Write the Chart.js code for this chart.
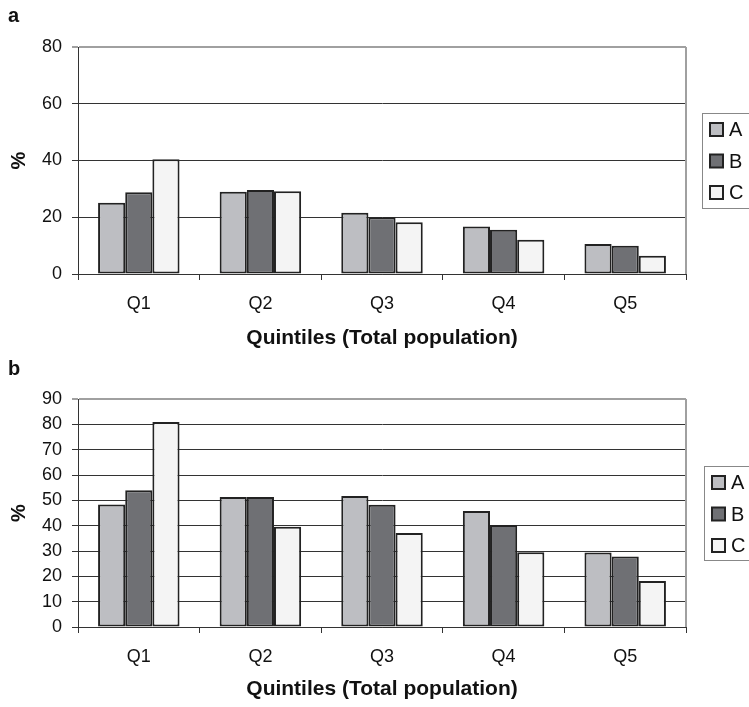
<!DOCTYPE html>
<html>
<head>
<meta charset="utf-8">
<script src="https://cdn.jsdelivr.net/npm/chart.js@4.4.1/dist/chart.umd.min.js"></script>
<style>
  body { margin: 0; background: #fff; }
  .painel { position: absolute; left: 0; width: 749px; }
  #painelA { top: 0; height: 356px; }
  #painelB { top: 356px; height: 351px; }
</style>
</head>
<body>
<div class="painel" id="painelA"><canvas id="graficoA"></canvas></div>
<div class="painel" id="painelB"><canvas id="graficoB"></canvas></div>
<script>
const quintis = ['Q1', 'Q2', 'Q3', 'Q4', 'Q5'];
const series = ['A', 'B', 'C'];

// Painel a
const painelA_A = [25.1, 29.0, 21.6, 16.7, 10.6];
const painelA_B = [28.8, 29.6, 20.0, 15.6, 10.0];
const painelA_C = [40.4, 29.2, 18.2, 12.1, 6.4];
const ticksA = [0, 20, 40, 60, 80];

// Painel b
const painelB_A = [48.4, 51.3, 51.7, 45.8, 29.4];
const painelB_B = [54.0, 51.3, 48.3, 40.3, 27.8];
const painelB_C = [80.9, 39.6, 37.1, 29.5, 18.2];
const ticksB = [0, 10, 20, 30, 40, 50, 60, 70, 80, 90];

const cores = ['#bdbec2', '#6f7074', '#f4f4f4'];
const corBorda = '#222';
const fonte = 'Liberation Sans, Arial, sans-serif';

// Legenda em caixa e letra do painel
const legendaCaixa = {
  id: 'legendaCaixa',
  afterDraw(chart, args, opts) {
    const ctx = chart.ctx;
    ctx.save();
    // borda cinza do plot (direita)
    const a = chart.chartArea;
    ctx.strokeStyle = '#a0a0a0';
    ctx.lineWidth = 2;
    ctx.beginPath();
    ctx.moveTo(a.right, a.top);
    ctx.lineTo(a.right, a.bottom);
    ctx.stroke();

    ctx.strokeStyle = '#888';
    ctx.lineWidth = 1;
    ctx.strokeRect(opts.x + 0.5, opts.y + 0.5, 80, opts.h);
    chart.data.datasets.forEach((ds, i) => {
      const y = opts.y + 10 + i * 31.5;
      ctx.fillStyle = ds.backgroundColor;
      ctx.fillRect(opts.x + 8, y, 13, 13);
      ctx.strokeStyle = corBorda;
      ctx.lineWidth = 2;
      ctx.strokeRect(opts.x + 8, y, 13, 13);
      ctx.fillStyle = '#111';
      ctx.font = '20px ' + fonte;
      ctx.textBaseline = 'middle';
      ctx.textAlign = 'left';
      ctx.fillText(ds.label, opts.x + 27, y + 7.5);
    });

    ctx.font = 'bold 20px ' + fonte;
    ctx.textBaseline = 'alphabetic';
    ctx.fillStyle = '#111';
    ctx.fillText(opts.letra, 8, opts.letraY);
    ctx.restore();
  }
};

function criarGrafico(id, letra, valores, ticks, cfg) {
  const ctx = document.getElementById(id).getContext('2d');
  const maximo = ticks[ticks.length - 1];
  return new Chart(ctx, {
    type: 'bar',
    data: {
      labels: quintis,
      datasets: series.map((s, i) => ({
        label: s,
        data: valores[i],
        backgroundColor: cores[i],
        borderColor: corBorda,
        borderWidth: 2,
        borderSkipped: false,
        categoryPercentage: 0.67,
        barPercentage: 1.0
      }))
    },
    options: {
      responsive: true,
      maintainAspectRatio: false,
      animation: false,
      layout: { padding: { left: 0, top: cfg.topo, right: 63, bottom: 0 } },
      scales: {
        x: {
          offset: true,
          grid: { drawOnChartArea: false, tickLength: 6, color: '#333', offset: true },
          border: { color: '#333', width: 1 },
          ticks: { color: '#111', font: { family: fonte, size: 18 }, padding: 13, maxRotation: 0 },
          title: {
            display: true,
            text: 'Quintiles (Total population)',
            color: '#111',
            font: { family: fonte, size: 21, weight: 'bold' },
            padding: { top: 0, bottom: 5 }
          },
          afterFit: (scale) => { scale.height = cfg.alturaX; }
        },
        y: {
          min: ticks[0],
          max: maximo,
          afterBuildTicks: (scale) => { scale.ticks = ticks.map(v => ({ value: v })); },
          grid: {
            tickLength: 6,
            color: (c) => (c.tick && c.tick.value === maximo ? '#a0a0a0' : '#333'),
            lineWidth: (c) => (c.tick && c.tick.value === maximo ? 2 : 1)
          },
          border: { color: '#333', width: 1 },
          ticks: { color: '#111', font: { family: fonte, size: 18 }, padding: 10 },
          title: {
            display: true,
            text: '%',
            color: '#111',
            font: { family: fonte, size: 20, weight: 'bold' },
            padding: { top: 7, bottom: 0 }
          },
          afterFit: (scale) => { scale.width = 78; }
        }
      },
      plugins: {
        legend: { display: false },
        tooltip: { enabled: false },
        legendaCaixa: { x: cfg.legX, y: cfg.legY, h: cfg.legH, letra: letra, letraY: cfg.letraY }
      }
    },
    plugins: [legendaCaixa]
  });
}

criarGrafico('graficoA', 'a', [painelA_A, painelA_B, painelA_C], ticksA,
  { topo: 47, alturaX: 82, legX: 702, legY: 113, legH: 95, letraY: 22 });
criarGrafico('graficoB', 'b', [painelB_A, painelB_B, painelB_C], ticksB,
  { topo: 43, alturaX: 80, legX: 704, legY: 110, legH: 94, letraY: 19 });
</script>
</body>
</html>
